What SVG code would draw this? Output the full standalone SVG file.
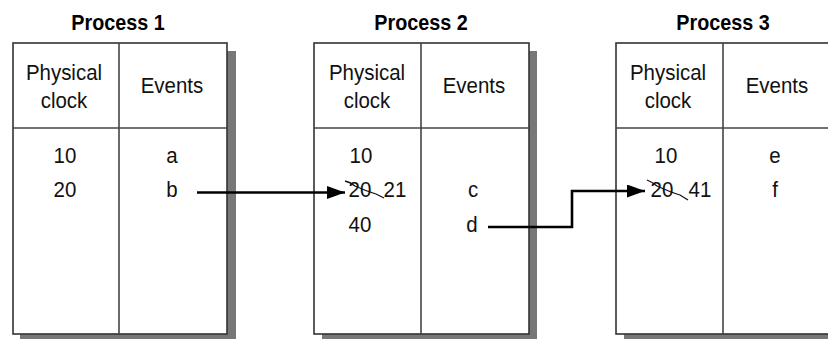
<svg xmlns="http://www.w3.org/2000/svg" width="828" height="339" viewBox="0 0 828 339">
  <style>
    .title { font-family: "Liberation Sans", Arial, sans-serif; font-weight: bold; font-size: 21.5px; text-anchor: middle; fill: #000; transform-box: fill-box; transform-origin: center; transform: scaleX(0.92); }
    .txt { font-family: "Liberation Sans", Arial, sans-serif; font-size: 22px; text-anchor: middle; fill: #111; transform-box: fill-box; transform-origin: center; transform: scaleX(0.93); }
    .box { fill: #fff; stroke: #333; stroke-width: 1.6; }
    .shadow { fill: #777; }
    .rule { stroke: #444; stroke-width: 1.6; }
    .conn { fill: none; stroke: #000; stroke-width: 2.6; }
    .strike { fill: none; stroke: #111; stroke-width: 1.3; }
  </style>
  <defs>
    <marker id="arrow" viewBox="0 0 18 13" refX="18" refY="6.5" markerWidth="18" markerHeight="13" markerUnits="userSpaceOnUse" orient="auto">
      <path d="M0,0 L18,6.5 L0,13 Z" fill="#000"/>
    </marker>
  </defs>
  <rect width="828" height="339" fill="#fff"/>

  <!-- Process 1 -->
  <g id="process1">
    <text class="title" x="118" y="30">Process 1</text>
    <rect class="shadow" x="20" y="51" width="216" height="292"/>
    <rect class="box" x="13" y="43" width="214" height="291"/>
    <line class="rule" x1="119" y1="43" x2="119" y2="334"/>
    <line class="rule" x1="13" y1="128" x2="227" y2="128"/>
    <text class="txt" x="64" y="80">Physical</text>
    <text class="txt" x="64" y="108">clock</text>
    <text class="txt" x="172" y="93">Events</text>
    <text class="txt" x="65" y="163">10</text>
    <text class="txt" x="65" y="197">20</text>
    <text class="txt" x="172" y="163">a</text>
    <text class="txt" x="172" y="197">b</text>
  </g>

  <!-- Process 2 -->
  <g id="process2">
    <text class="title" x="421" y="30">Process 2</text>
    <rect class="shadow" x="322" y="51" width="215" height="292"/>
    <rect class="box" x="314" y="43" width="215" height="291"/>
    <line class="rule" x1="421" y1="43" x2="421" y2="334"/>
    <line class="rule" x1="314" y1="128" x2="529" y2="128"/>
    <text class="txt" x="367" y="80">Physical</text>
    <text class="txt" x="367" y="108">clock</text>
    <text class="txt" x="474" y="93">Events</text>
    <text class="txt" x="361" y="163">10</text>
    <text class="txt" x="360" y="197">20</text>
    <path class="strike" d="M345,181 Q350,182 355,186 Q366,191 376,194 L384,198"/>
    <text class="txt" x="395" y="197">21</text>
    <text class="txt" x="360" y="232">40</text>
    <text class="txt" x="473" y="197">c</text>
    <text class="txt" x="472" y="232">d</text>
  </g>

  <!-- Process 3 -->
  <g id="process3">
    <text class="title" x="723" y="30">Process 3</text>
    <rect class="shadow" x="624" y="51" width="220" height="292"/>
    <rect class="box" x="616" y="43" width="220" height="291"/>
    <line class="rule" x1="723" y1="43" x2="723" y2="334"/>
    <line class="rule" x1="616" y1="128" x2="836" y2="128"/>
    <text class="txt" x="668" y="80">Physical</text>
    <text class="txt" x="668" y="108">clock</text>
    <text class="txt" x="777" y="93">Events</text>
    <text class="txt" x="666" y="163">10</text>
    <text class="txt" x="662" y="197">20</text>
    <path class="strike" d="M647,180 Q652,182 657,186 Q670,192 680,195 L688,200"/>
    <text class="txt" x="700" y="197">41</text>
    <text class="txt" x="775" y="163">e</text>
    <text class="txt" x="775" y="197">f</text>
  </g>

  <!-- Messages between processes -->
  <g id="connectors">
    <path class="conn" d="M197,192.5 H345" marker-end="url(#arrow)"/>
    <path class="conn" d="M488,227 H572 V191 H645" marker-end="url(#arrow)"/>
  </g>
</svg>
